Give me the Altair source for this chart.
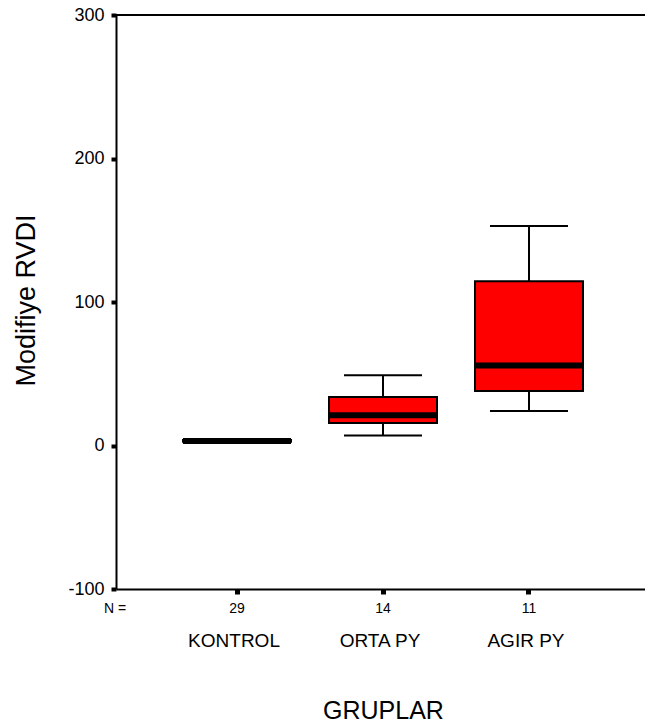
import altair as alt
import pandas as pd

groups = ["KONTROL", "ORTA PY", "AGIR PY"]
n_counts = [29, 14, 11]
whisker_low = [2.0, 7.0, 24.0]
q1 = [2.6, 15.7, 38.0]
median = [3.2, 21.0, 55.8]
q3 = [3.8, 33.8, 114.4]
whisker_high = [4.4, 49.0, 153.0]
y_ticks = [-100, 0, 100, 200, 300]

df = pd.DataFrame({
    "group": groups, "n": n_counts, "low": whisker_low, "q1": q1,
    "median": median, "q3": q3, "high": whisker_high,
})

FONT = "Liberation Sans"
W, H = 529, 574
FULL_W = 534

xscale = alt.Scale(domain=groups, range=[0, FULL_W], paddingInner=0, paddingOuter=0.329)
x_enc = alt.X("group:N", sort=groups, scale=xscale,
              axis=alt.Axis(title="GRUPLAR", labels=False, ticks=True, tickSize=5, tickWidth=5,
                            tickColor="black", domainColor="black", domainWidth=2,
                            titleFont=FONT, titleFontSize=25, titleFontWeight="normal",
                            titleColor="black", titleBaseline="alphabetic", titleY=129,
                            titleX=FULL_W / 2, titleAlign="center"))

yscale = alt.Scale(domain=[-100, 300], nice=False, zero=False)
yaxis = alt.Axis(title="Modifiye RVDI", values=y_ticks, grid=False, tickSize=5, tickWidth=4,
                 tickColor="black", domainColor="black", domainWidth=2,
                 labelExpr="'' + datum.value",
                 labelFont=FONT, labelFontSize=18, labelColor="black", labelPadding=7,
                 titleFont=FONT, titleFontSize=27, titleFontWeight="normal", titleColor="black",
                 titleBaseline="alphabetic", titleX=-82, titleY=H / 2 - 2, titleAlign="center")


def Y(field):
    return alt.Y(f"{field}:Q", scale=yscale, axis=yaxis)


base = alt.Chart(df)

whisk = base.mark_rule(color="black", strokeWidth=2).encode(x=x_enc, y=Y("low"), y2="high:Q")
caps_low = base.mark_tick(color="black", size=78, thickness=2, opacity=1).encode(x=x_enc, y=Y("low"))
caps_high = base.mark_tick(color="black", size=78, thickness=2, opacity=1).encode(x=x_enc, y=Y("high"))
box = base.mark_bar(size=108, color="#ff0000", stroke="black", strokeWidth=2, opacity=1).encode(
    x=x_enc, y=Y("q1"), y2="q3:Q")
med = base.mark_tick(color="black", size=108, thickness=6, opacity=1).encode(x=x_enc, y=Y("median"))

counts = base.mark_text(font=FONT, fontSize=14, color="black", baseline="alphabetic").encode(
    x=x_enc, y=alt.value(598), text="n:Q")
labels = base.mark_text(font=FONT, fontSize=19, color="black", baseline="alphabetic", dx=-3).encode(
    x=x_enc, y=alt.value(632), text="group:N")
nlabel = alt.Chart(pd.DataFrame({"t": ["N ="]})).mark_text(
    font=FONT, fontSize=14, color="black", baseline="alphabetic", align="left").encode(
    x=alt.value(-12), y=alt.value(598), text="t:N")

top_border = alt.Chart(pd.DataFrame({"t": [0]})).mark_rule(color="black", strokeWidth=2).encode(
    x=alt.value(0), x2=alt.value(FULL_W), y=alt.value(0))

chart = alt.layer(whisk, caps_low, caps_high, box, med, counts, labels, nlabel, top_border).properties(
    width=W, height=H,
    padding={"left": 116, "top": 15, "right": 0, "bottom": 139},
    autosize=alt.AutoSizeParams(type="none"),
).configure_view(stroke=None).configure(background="white")

chart.save("out.html", embed_options={"renderer": "svg", "actions": False})
